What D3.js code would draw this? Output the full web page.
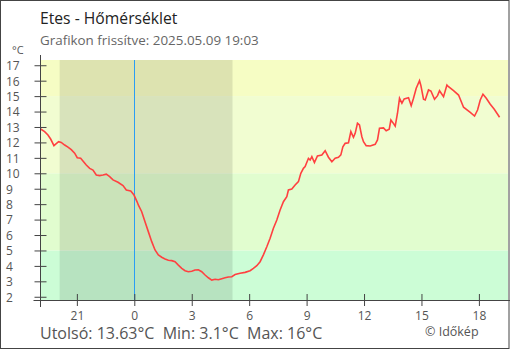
<!DOCTYPE html>
<html>
<head>
<meta charset="utf-8">
<script src="https://cdn.jsdelivr.net/npm/d3@7"></script>
<style>
html,body{margin:0;padding:0;background:#fff;}
svg{display:block;font-family:"Open Sans","Noto Sans",sans-serif;}
</style>
</head>
<body>
<svg id="chart" width="510" height="350"></svg>
<script>
// hours relative to midnight of 2025.05.09 (negative = previous evening)
const hours = [-4.893,-4.684,-4.511,-4.370,-4.198,-4.077,-3.952,-3.816,-3.638,-3.466,-3.293,-3.116,-2.980,-2.802,-2.682,-2.509,-2.331,-2.159,-1.986,-1.809,-1.636,-1.464,-1.286,-1.113,-0.852,-0.591,-0.418,-0.188,-0.016,0.157,0.209,0.387,0.559,0.732,0.910,1.082,1.255,1.432,1.605,1.777,1.955,2.128,2.300,2.478,2.650,2.823,3.001,3.173,3.346,3.523,3.696,3.868,4.046,4.219,4.391,4.569,4.741,4.914,5.092,5.264,5.525,5.787,6.048,6.221,6.398,6.571,6.743,6.921,7.094,7.266,7.444,7.616,7.789,7.966,8.050,8.228,8.400,8.573,8.698,8.834,8.923,9.096,9.185,9.274,9.409,9.566,9.796,9.969,10.141,10.319,10.491,10.664,10.789,10.894,11.014,11.187,11.312,11.448,11.537,11.657,11.762,11.887,11.971,12.112,12.321,12.582,12.703,12.807,13.016,13.157,13.314,13.403,13.507,13.628,13.748,13.853,13.978,14.098,14.323,14.464,14.584,14.726,14.898,14.971,15.107,15.196,15.368,15.494,15.682,15.839,15.944,16.153,16.330,16.414,16.675,16.937,17.198,17.548,17.773,17.930,18.071,18.212,18.385,18.594,18.803,19.080];
const temps = [12.87,12.70,12.48,12.22,11.79,11.92,12.05,12.00,11.83,11.70,11.53,11.30,11.01,10.97,10.80,10.54,10.32,10.21,9.89,9.85,9.89,9.94,9.78,9.57,9.42,9.20,8.92,8.85,8.59,8.12,7.95,7.51,6.86,6.22,5.57,5.03,4.71,4.56,4.45,4.36,4.34,4.27,4.05,3.84,3.69,3.62,3.65,3.73,3.75,3.62,3.41,3.23,3.08,3.13,3.10,3.17,3.23,3.28,3.30,3.44,3.52,3.58,3.69,3.84,4.01,4.27,4.71,5.24,5.79,6.44,6.97,7.62,8.16,8.48,8.92,8.98,9.24,9.46,10.00,10.32,10.43,10.97,10.86,11.08,10.69,11.12,11.19,11.46,11.04,10.75,10.97,11.04,11.19,11.72,11.94,11.98,12.70,12.33,12.59,13.24,13.13,12.37,12.05,11.79,11.77,11.88,12.16,12.92,12.94,12.76,12.85,13.45,13.28,13.06,13.89,14.86,14.54,14.82,14.90,14.38,14.86,15.51,16.00,15.68,14.80,14.75,15.40,15.33,14.80,15.03,15.35,14.96,15.72,15.61,15.35,15.07,14.28,13.95,13.71,14.10,14.75,15.12,14.86,14.47,14.15,13.63];
const xTickHours = [-3,0,3,6,9,12,15,18];
const xTickLabels = ["21","0","3","6","9","12","15","18"];
const yTicks = [2,3,4,5,6,7,8,9,10,11,12,13,14,15,16,17];
const bandBreaks = [5,10,15];
const bandColors = ["#ccfdd6","#e1fdcf","#f1fdd1","#f6fdc4"];
const night = [-3.9, 5.13];
const titleText = "Etes - Hőmérséklet";
const subtitleText = "Grafikon frissítve: 2025.05.09 19:03";
const summaryText = "Utolsó: 13.63°C  Min: 3.1°C  Max: 16°C";
const creditText = "© Időkép";

const svg = d3.select("#chart");
const L = 40.5, R = 508, T = 60, B = 300;
const x = d3.scaleLinear().domain([-4.9, 19.52]).range([L, R]);
const y = d3.scaleLinear().domain([1.79, 17.34]).range([B, T]);

// frame
svg.append("rect").attr("x",0.5).attr("y",0.5).attr("width",508.5).attr("height",348)
  .attr("fill","#fff").attr("stroke","#444").attr("stroke-width",1);

// bands
const bandEdges = [y.domain()[0], ...bandBreaks, y.domain()[1]];
svg.append("g").selectAll("rect").data(bandColors).join("rect")
  .attr("x", L).attr("width", R - L)
  .attr("y", (d,i) => y(bandEdges[i+1]))
  .attr("height", (d,i) => y(bandEdges[i]) - y(bandEdges[i+1]))
  .attr("fill", d => d);

// night shading
svg.append("rect").attr("x", x(night[0])).attr("width", x(night[1]) - x(night[0]))
  .attr("y", T).attr("height", B - T).attr("fill", "rgba(0,0,0,0.1)");

// midnight line
svg.append("line").attr("x1", Math.round(x(0))+0.5).attr("x2", Math.round(x(0))+0.5)
  .attr("y1", T).attr("y2", B).attr("stroke", "#2a9df4").attr("stroke-width", 1);

// temperature line
const data = hours.map((h,i) => [h, temps[i]]);
svg.append("path").datum(data)
  .attr("fill","none").attr("stroke","#ff4040").attr("stroke-width",1.6)
  .attr("d", d3.line().x(d => x(d[0])).y(d => y(d[1])));

// y axis
const yAxis = d3.axisLeft(y).tickValues(yTicks).tickFormat(d3.format("d")).tickSizeInner(6).tickSizeOuter(0);
const gy = svg.append("g").attr("transform", `translate(${L},0)`).call(yAxis);
gy.select(".domain").remove();
gy.append("line").attr("x1",0).attr("x2",0).attr("y1",T-5).attr("y2",B+7).attr("stroke","#444");
gy.selectAll(".tick line").attr("x1",-6).attr("x2",6).attr("stroke","#444");
gy.selectAll(".tick text").attr("x",6 - L).attr("text-anchor","start").attr("dy","0.36em")
  .attr("fill","#555").style("font-size","12px")
  .style("font-family","'Open Sans','Noto Sans',sans-serif");
svg.append("text").attr("x", 12).attr("y", 54).text("°C").attr("fill","#555").style("font-size","11px");

// x axis
const xAxis = d3.axisBottom(x).tickValues(xTickHours).tickFormat((d,i) => xTickLabels[i]).tickSizeInner(6).tickSizeOuter(0);
const gx = svg.append("g").attr("transform", `translate(0,${B})`).call(xAxis);
gx.select(".domain").remove();
gx.append("line").attr("x1",L-7).attr("x2",R+2).attr("y1",0.5).attr("y2",0.5).attr("stroke","#444");
gx.selectAll(".tick line").attr("y1",-6).attr("y2",6).attr("stroke","#444");
gx.selectAll(".tick text").attr("y",11).attr("fill","#555").style("font-size","12px")
  .style("font-family","'Open Sans','Noto Sans',sans-serif");

// titles
svg.append("text").attr("x",40).attr("y",24).text(titleText).attr("fill","#222").style("font-size","15.7px");
svg.append("text").attr("x",40).attr("y",45).text(subtitleText).attr("fill","#666").style("font-size","13.4px");
svg.append("text").attr("x",40).attr("y",339).text(summaryText).attr("fill","#555").style("font-size","16px").attr("xml:space","preserve").style("white-space","pre");
svg.append("text").attr("x",425).attr("y",336).text(creditText).attr("fill","#555").style("font-size","12.5px");
</script>
</body>
</html>
